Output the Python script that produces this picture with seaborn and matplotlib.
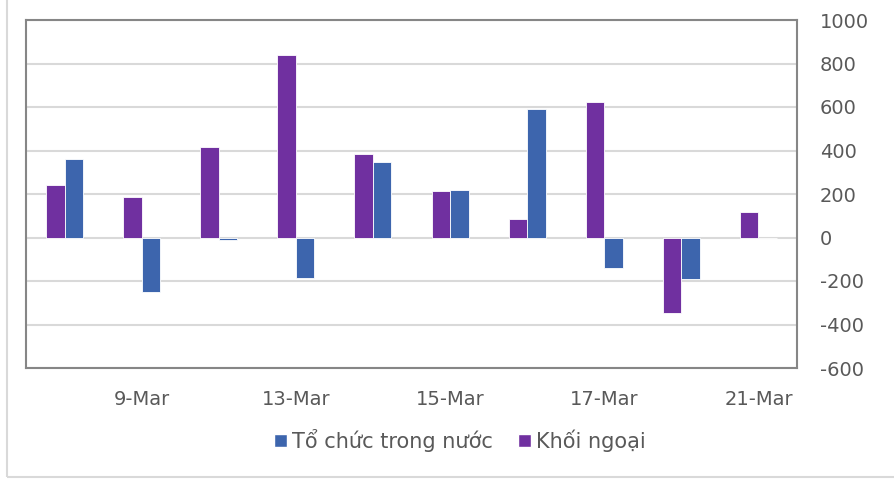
import numpy as np
import pandas as pd
import matplotlib
matplotlib.use('Agg')
import matplotlib.pyplot as plt
import seaborn as sns
from matplotlib.patches import Patch, Rectangle

# Dữ liệu (tỷ đồng)
dates = ["8-Mar", "9-Mar", "10-Mar", "13-Mar", "14-Mar",
         "15-Mar", "16-Mar", "17-Mar", "20-Mar", "21-Mar"]
khoi_ngoai = [240, 188, 418, 841, 383, 216, 87, 621, -346, 116]
to_chuc = [363, -251, -10, -185, 345, 220, 590, -141, -190, 0]
y_ticks = [-600, -400, -200, 0, 200, 400, 600, 800, 1000]

name_kn = "Khối ngoại"
name_tc = "Tổ chức trong nước"
c_kn = "#7030A0"
c_tc = "#3D65AD"
text_c = "#595959"

df = pd.DataFrame({
    "date": dates * 2,
    "value": khoi_ngoai + to_chuc,
    "series": [name_kn] * len(dates) + [name_tc] * len(dates),
})

sns.set_style("white")
plt.rcParams['font.family'] = ['DejaVu Sans']

fig = plt.figure(figsize=(8.95, 4.8), dpi=100)
ax = fig.add_axes([26 / 895, 1 - 368 / 480, (797 - 26) / 895, (368 - 20) / 480])

sns.barplot(data=df, x="date", y="value", hue="series", order=dates,
            hue_order=[name_kn, name_tc], palette=[c_kn, c_tc], saturation=1,
            width=0.48, dodge=True, ax=ax, legend=False,
            edgecolor="white", linewidth=0.6, zorder=3)

ax.set_xlim(-0.5, len(dates) - 0.5)
ax.set_ylim(-600, 1000)
ax.set_yticks(y_ticks)
ax.set_yticklabels([str(v) for v in y_ticks])
ax.yaxis.tick_right()
ax.tick_params(axis='y', length=0, pad=16.5, labelsize=14, labelcolor=text_c)
for lbl in ax.get_yticklabels():
    lbl.set_horizontalalignment('left')

ax.set_xticks(range(1, len(dates), 2))
ax.set_xticklabels(dates[1::2])
ax.tick_params(axis='x', length=0, pad=16, labelsize=14, labelcolor=text_c)
ax.set_xlabel("")
ax.set_ylabel("")

ax.yaxis.grid(True, color="#d9d9d9", linewidth=1.5, zorder=0)
ax.set_axisbelow(True)
for sp in ax.spines.values():
    sp.set_visible(True)
    sp.set_color("#868686")
    sp.set_linewidth(1.5)

handles = [Patch(facecolor=c_tc, label=name_tc), Patch(facecolor=c_kn, label=name_kn)]
fig.legend(handles=handles, loc="center", bbox_to_anchor=(460 / 895, 1 - 440 / 480),
           ncol=2, frameon=False, fontsize=15, labelcolor=text_c,
           handlelength=0.6, handleheight=0.6, handletextpad=0.25, columnspacing=1.2)

# khung ngoài của biểu đồ
fig.add_artist(Rectangle((7 / 895, 3 / 480), 1.0, 1.0, transform=fig.transFigure,
                         fill=False, edgecolor="#d9d9d9", linewidth=1.5, clip_on=False))

fig.savefig("out.png", dpi=100)
plt.close(fig)
